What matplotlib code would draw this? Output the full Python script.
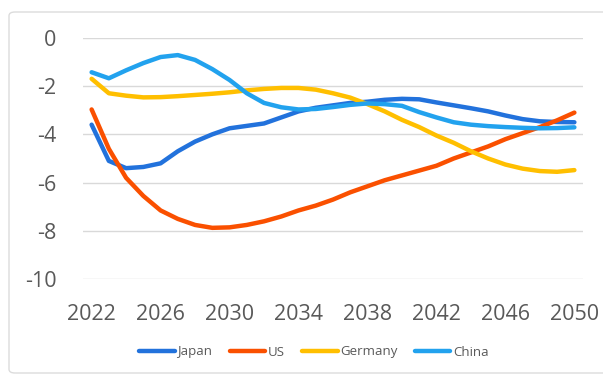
import matplotlib.pyplot as plt
from matplotlib.patches import FancyBboxPatch

years = list(range(2022, 2051))

japan = [-3.6, -5.1, -5.4, -5.35, -5.2, -4.7, -4.3, -4.0, -3.75, -3.65,
         -3.55, -3.3, -3.05, -2.9, -2.8, -2.7, -2.65, -2.57, -2.53, -2.55,
         -2.68, -2.8, -2.92, -3.05, -3.22, -3.37, -3.46, -3.49, -3.5]
us = [-2.97, -4.6, -5.8, -6.55, -7.15, -7.5, -7.75, -7.87, -7.85, -7.75,
      -7.6, -7.4, -7.15, -6.95, -6.7, -6.4, -6.15, -5.9, -5.7, -5.5,
      -5.3, -5.0, -4.75, -4.5, -4.2, -3.95, -3.7, -3.42, -3.1]
germany = [-1.7, -2.3, -2.4, -2.47, -2.46, -2.42, -2.37, -2.32, -2.26, -2.18,
           -2.12, -2.08, -2.08, -2.15, -2.3, -2.48, -2.75, -3.05, -3.4, -3.7,
           -4.05, -4.35, -4.7, -5.0, -5.25, -5.42, -5.52, -5.55, -5.48]
china = [-1.43, -1.68, -1.35, -1.05, -0.8, -0.72, -0.92, -1.3, -1.75, -2.3,
         -2.7, -2.88, -2.97, -2.95, -2.87, -2.78, -2.72, -2.75, -2.82, -3.08,
         -3.3, -3.5, -3.6, -3.66, -3.7, -3.73, -3.75, -3.74, -3.71]

x_ticks = [2022, 2026, 2030, 2034, 2038, 2042, 2046, 2050]
y_ticks = [0, -2, -4, -6, -8, -10]

plt.rcParams['font.family'] = ['Open Sans', 'DejaVu Sans']

fig = plt.figure(figsize=(6.03, 3.76), dpi=100)
ax = fig.add_axes([83 / 603, 1 - 279.3 / 376, 500 / 603, (279.3 - 37.7) / 376])

# chart border (runs off the right edge like the source)
border = FancyBboxPatch((9 / 603, 3 / 376), 1.05, 1 - 15 / 376,
                        boxstyle="round,pad=0,rounding_size=0.01",
                        transform=fig.transFigure, fill=False,
                        edgecolor='#dcdcdc', linewidth=1.0, clip_on=False)
fig.patches.append(border)

ax.plot(years, japan, color='#2272dc', lw=3.2, label='Japan', solid_capstyle='round')
ax.plot(years, us, color='#fa5000', lw=3.2, label='US', solid_capstyle='round')
ax.plot(years, germany, color='#ffbf00', lw=3.2, label='Germany', solid_capstyle='round')
ax.plot(years, china, color='#22a2ee', lw=3.2, label='China', solid_capstyle='round')

ax.set_xlim(2021.5, 2050.5)
ax.set_ylim(-10, 0)
ax.set_xticks(x_ticks)
ax.set_yticks(y_ticks)
ax.set_yticklabels([str(v) for v in y_ticks])
ax.grid(axis='y', color='#d9d9d9', lw=1)
ax.set_axisbelow(True)
for s in ax.spines.values():
    s.set_visible(False)
ax.tick_params(length=0, labelsize=15.5, colors='#595959')
ax.tick_params(axis='y', pad=19)
ax.tick_params(axis='x', pad=18)

leg = fig.legend(loc='center', bbox_to_anchor=(314 / 603, 1 - 352 / 376), ncol=4,
                 frameon=False, fontsize=9.5, handlelength=2.7, handletextpad=0.2,
                 columnspacing=1.3)
for t in leg.get_texts():
    t.set_color('#595959')

fig.savefig('out.png', dpi=100)
